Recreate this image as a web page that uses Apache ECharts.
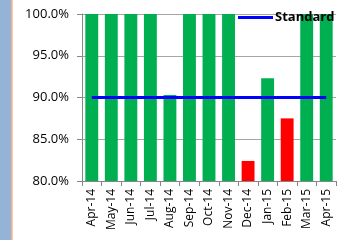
<!DOCTYPE html>
<html>
<head>
<meta charset="utf-8">
<script src="https://cdn.jsdelivr.net/npm/echarts@6/dist/echarts.min.js"></script>
<style>
  html, body { margin: 0; padding: 0; background: #fff; }
  #chart { width: 353px; height: 240px; }
</style>
</head>
<body>
<div id="chart"></div>
<script>
// months shown on the x axis
const months = ['Apr-14', 'May-14', 'Jun-14', 'Jul-14', 'Aug-14', 'Sep-14', 'Oct-14',
  'Nov-14', 'Dec-14', 'Jan-15', 'Feb-15', 'Mar-15', 'Apr-15'];
// monthly result, in percent (bars at the top are cut by the 100% max)
const actual = [100, 100, 100, 100, 90.3, 100, 100, 100, 82.4, 92.3, 87.5, 100, 100];
// target line
const standard = [90, 90, 90, 90, 90, 90, 90, 90, 90, 90, 90, 90, 90];
const yTicks = [80, 85, 90, 95, 100];

const chart = echarts.init(document.getElementById('chart'));

const option = {
  animation: false,
  textStyle: { fontFamily: 'Open Sans' },
  graphic: [
    { type: 'rect', left: 0, top: 0, shape: { width: 11, height: 240 }, style: { fill: '#95b3d7' } },
    { type: 'rect', left: 11, top: 0, shape: { width: 1.7, height: 240 }, style: { fill: '#f2b48c' } }
  ],
  grid: { left: 82, right: 17, top: 14, bottom: 59 },
  legend: {
    data: [{ name: 'Standard', icon: 'rect' }],
    left: 233,
    top: 6,
    itemWidth: 35,
    itemHeight: 3,
    itemGap: 2,
    textStyle: { fontSize: 13, fontWeight: 'bold', color: '#000', padding: [0, 0, 0, -3] }
  },
  xAxis: {
    type: 'category',
    data: months,
    axisLine: { lineStyle: { color: '#868686', width: 1 } },
    axisTick: { show: true, length: 5, lineStyle: { color: '#868686' } },
    axisLabel: { rotate: 90, fontSize: 12, color: '#000', margin: 8, interval: 0 }
  },
  yAxis: {
    type: 'value',
    min: yTicks[0],
    max: yTicks[yTicks.length - 1],
    interval: 5,
    axisLine: { show: true, lineStyle: { color: '#868686' } },
    axisTick: { show: true, length: 5, lineStyle: { color: '#868686' } },
    axisLabel: {
      fontSize: 13,
      color: '#000',
      margin: 13,
      formatter: v => v.toFixed(1) + '%'
    },
    splitLine: { lineStyle: { color: '#a6a6a6' } }
  },
  series: [
    {
      name: 'Actual',
      type: 'bar',
      data: actual,
      barWidth: '66%',
      itemStyle: {
        color: p => (p.value < standard[p.dataIndex] ? '#ff0000' : '#00b050')
      }
    },
    {
      name: 'Standard',
      type: 'line',
      data: standard,
      symbol: 'none',
      z: 3,
      lineStyle: { color: '#0000ff', width: 3 },
      itemStyle: { color: '#0000ff' }
    }
  ]
};

chart.setOption(option);
</script>
</body>
</html>
